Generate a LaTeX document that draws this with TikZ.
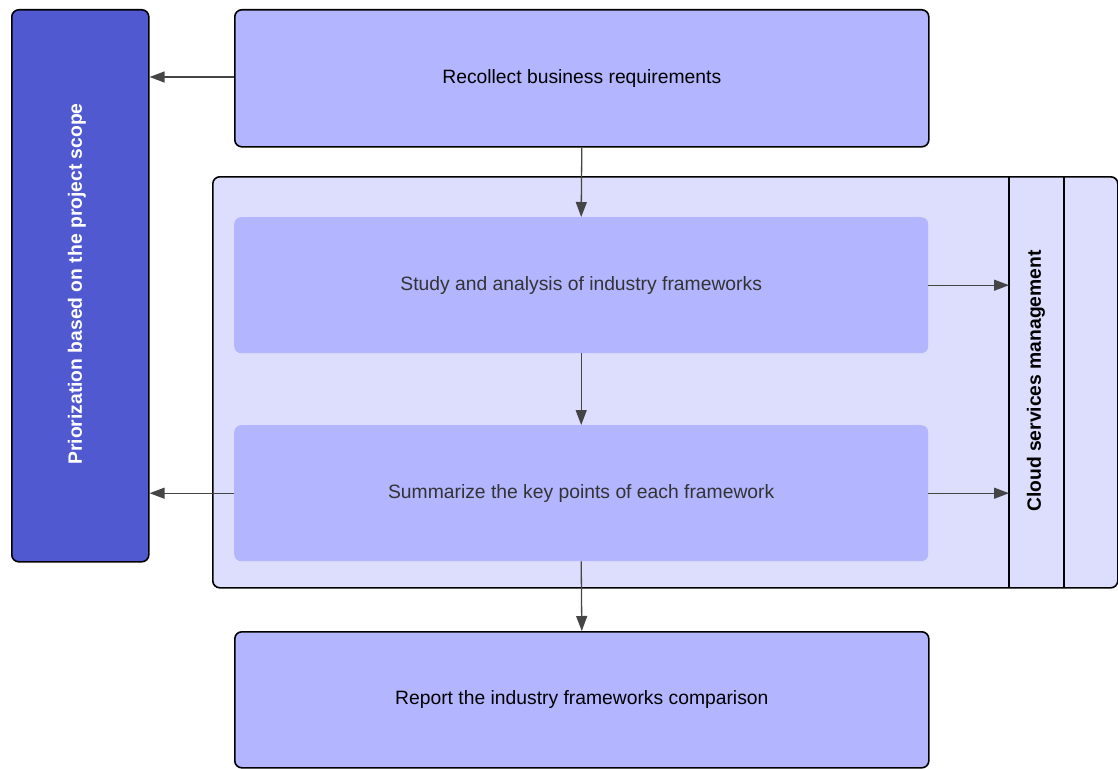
\documentclass[tikz,border=0pt]{standalone}
\usepackage{fontspec}
\setmainfont{Liberation Sans}
\usetikzlibrary{arrows.meta}
\definecolor{boxfill}{HTML}{B3B5FF}
\definecolor{panelfill}{HTML}{DDDDFD}
\definecolor{scopefill}{HTML}{5159D1}
\definecolor{linkcol}{HTML}{454545}
\definecolor{softtext}{HTML}{333333}
\begin{document}
\begin{tikzpicture}[x=1pt,y=-1pt,
  labelfont/.style={font=\fontsize{19.3}{23}\selectfont},
  stagebox/.style={draw=black,line width=1.6pt,rounded corners=7pt,fill=boxfill,
    minimum width=694pt,minimum height=137pt,labelfont,
    inner sep=0pt,anchor=north west},
  innerbox/.style={rounded corners=7pt,fill=boxfill,text=softtext,
    minimum width=694pt,minimum height=136pt,labelfont,
    inner sep=0pt,anchor=north west},
  link/.style={draw=linkcol,line width=1.3pt,-{Triangle[length=15pt,width=11pt]}}]
\useasboundingbox (0,0) rectangle (1118,768);
% side bar with the prioritization step
\node[draw=black,line width=1.6pt,rounded corners=7pt,fill=scopefill,
  minimum width=137pt,minimum height=552pt,anchor=north west,inner sep=0pt]
  (scope) at (11,9) {};
\node[rotate=90,text=white,font=\bfseries\fontsize{19.3}{23}\selectfont] (scopelbl)
  at (77,284) {Priorization based on the project scope};
% framework analysis panel
\node[draw=black,line width=1.6pt,rounded corners=7pt,fill=panelfill,
  minimum width=905pt,minimum height=411pt,anchor=north west,inner sep=0pt]
  (panel) at (212,176) {};
\coordinate (laneL) at (1009,176);
\coordinate (laneR) at (1064,176);
\draw[line width=1.6pt] (laneL) -- ++(0,411);
\draw[line width=1.6pt] (laneR) -- ++(0,411);
\node[rotate=90,font=\bfseries\fontsize{19.3}{23}\selectfont] (cloud)
  at (1036,381) {Cloud services management};
% process steps
\node[stagebox] (req) at (234,9) {Recollect business requirements};
\node[innerbox] (study) at (234,217) {Study and analysis of industry frameworks};
\node[innerbox] (summ) at (234,425) {Summarize the key points of each framework};
\node[stagebox,minimum height=136pt] (report) at (234,631) {Report the industry frameworks comparison};
\path (laneL |- study.east) coordinate (cloudA) (laneL |- summ.east) coordinate (cloudB);
% connectors
\draw[link] (req.west |- 0,77) -- (scope.east |- 0,77);
\draw[link] (req.south) -- (study.north);
\draw[link] (study.east) -- (cloudA);
\draw[link] (study.south) -- (summ.north);
\draw[link] (summ.west) -- (scope.east |- summ.west);
\draw[link] (summ.east) -- (cloudB);
\draw[link] (summ.south) -- (report.north);
\end{tikzpicture}
\end{document}
